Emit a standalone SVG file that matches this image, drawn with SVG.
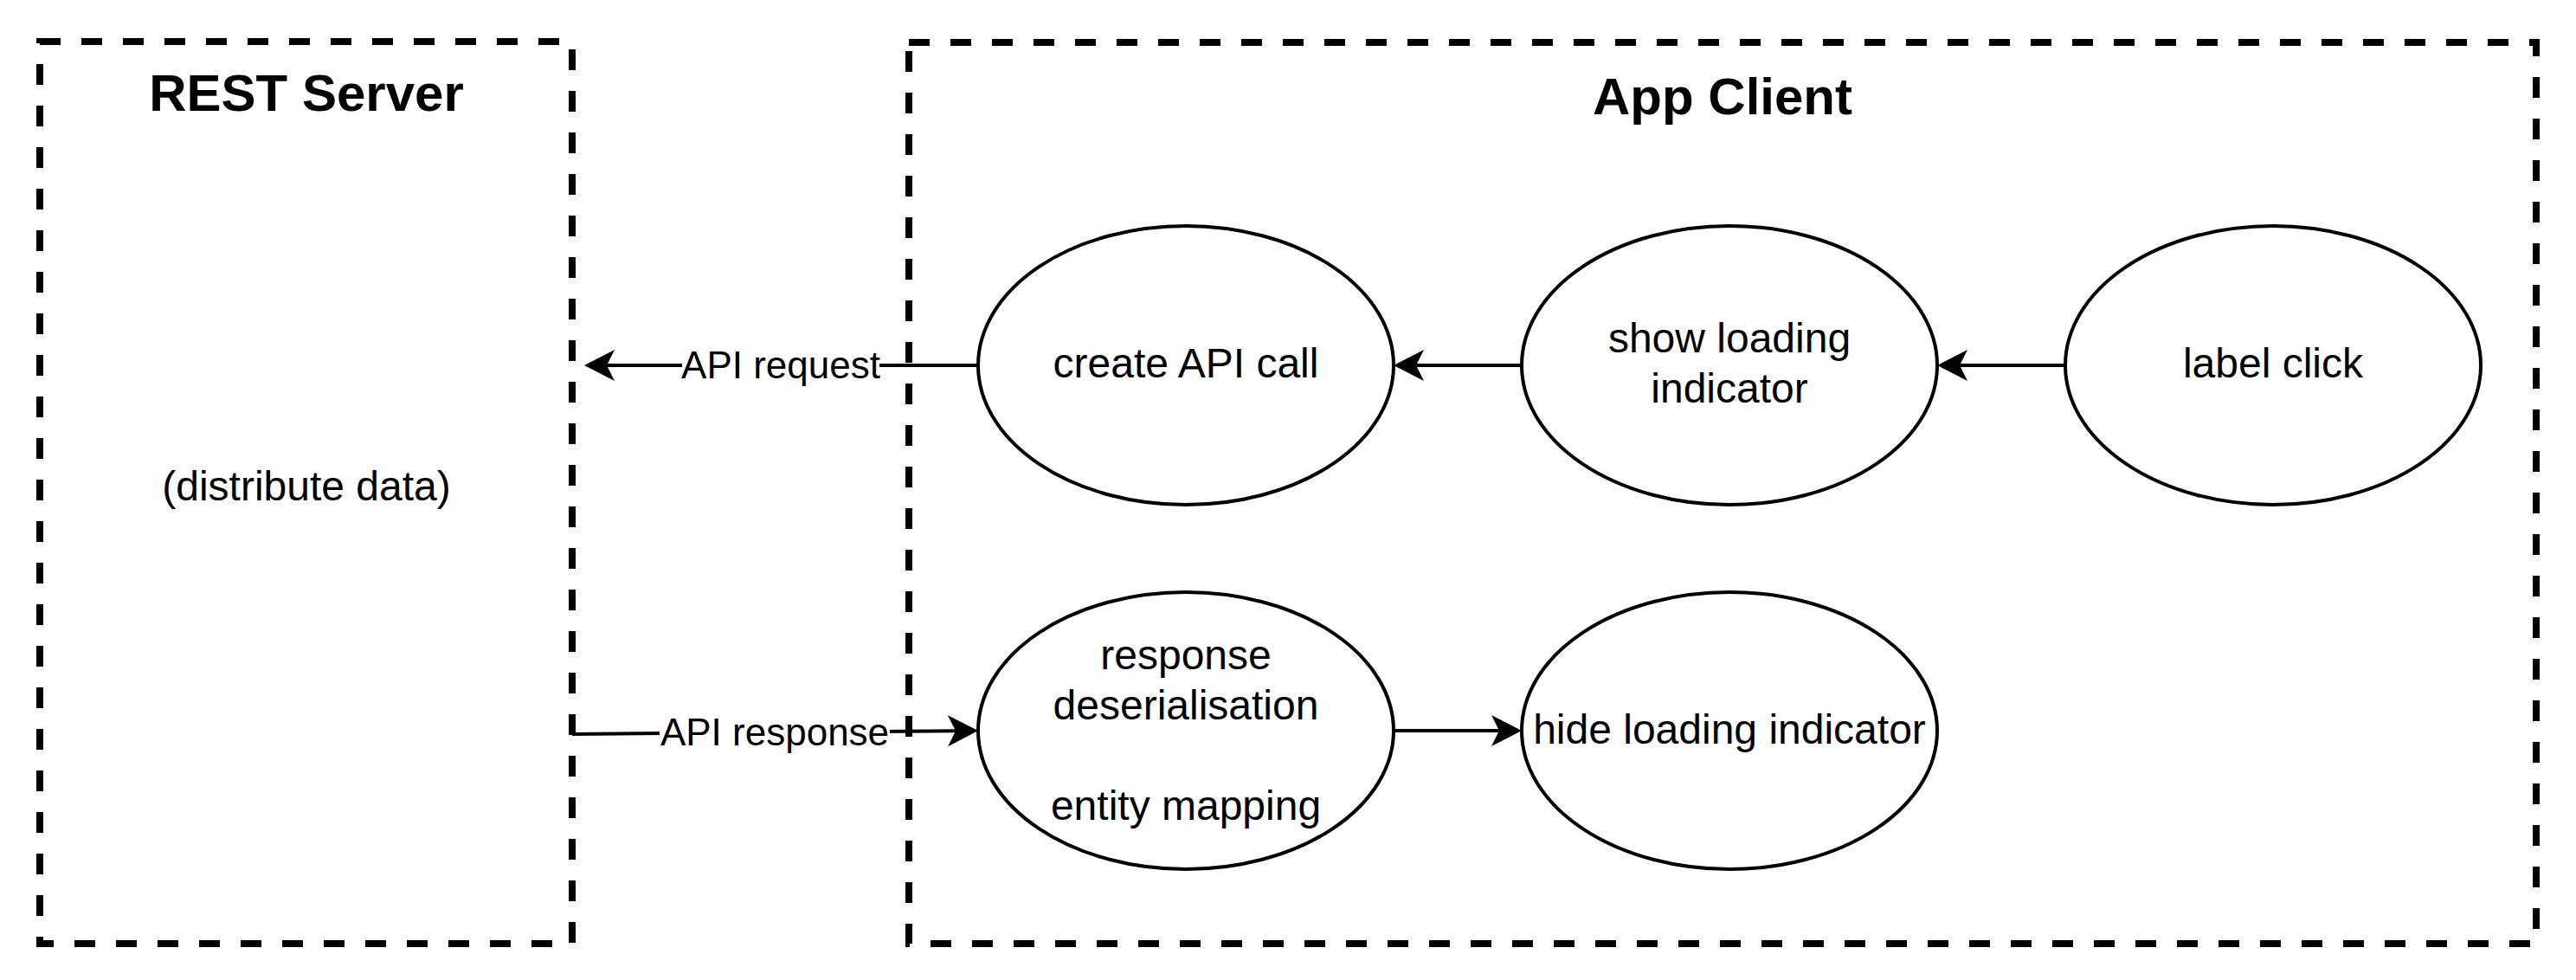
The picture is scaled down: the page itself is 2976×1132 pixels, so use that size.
<svg xmlns="http://www.w3.org/2000/svg" width="2976" height="1132" viewBox="0 0 2976 1132">
<style>
.container{fill:none;stroke:#000;stroke-width:8;stroke-dasharray:24 24}
.title{font-family:"Liberation Sans",Arial,Helvetica,sans-serif;font-weight:bold;font-size:60px;fill:#000;text-anchor:middle}
.node{fill:#fff;stroke:#000;stroke-width:4}
.txt{font-family:"Liberation Sans",Arial,Helvetica,sans-serif;font-size:48px;fill:#000;text-anchor:middle}
.edge{fill:none;stroke:#000;stroke-width:4}
.lbl{font-family:"Liberation Sans",Arial,Helvetica,sans-serif;font-size:44px;fill:#000;text-anchor:middle}
.lblbg{fill:#fff}
</style>
<defs>
<marker id="arrow" markerUnits="userSpaceOnUse" markerWidth="36" markerHeight="38" viewBox="0 -19 36 38" refX="9" refY="0" orient="auto">
<path d="M35,0 L0,-18 L9,0 L0,18 Z" fill="#000"/>
</marker>
</defs>
<rect width="2976" height="1132" fill="#fff"/>
<g id="rest-server">
<rect class="container" x="46" y="48" width="615" height="1042"/>
<text class="title" x="354" y="128">REST Server</text>
<text class="txt" x="354" y="578">(distribute data)</text>
</g>
<g id="app-client">
<rect class="container" x="1050" y="49" width="1880" height="1041"/>
<text class="title" x="1990" y="132">App Client</text>
</g>
<g id="connectors">
<path class="edge" d="M2386,422 L2264,422" marker-end="url(#arrow)"/>
<path class="edge" d="M1758,422 L1636,422" marker-end="url(#arrow)"/>
<path class="edge" d="M1130,422 L701,422" marker-end="url(#arrow)"/>
<rect class="lblbg" x="788" y="398" width="228" height="50"/>
<text class="lbl" x="902" y="437">API request</text>
<path class="edge" d="M661,848 L1104,844.2" marker-end="url(#arrow)"/>
<rect class="lblbg" x="762" y="822" width="266" height="50"/>
<text class="lbl" x="895" y="861">API response</text>
<path class="edge" d="M1610,844 L1732,844" marker-end="url(#arrow)"/>
</g>
<g id="create-api-call">
<ellipse class="node" cx="1370" cy="422" rx="240" ry="161"/>
<text class="txt" x="1370" y="436">create API call</text>
</g>
<g id="show-loading-indicator">
<ellipse class="node" cx="1998" cy="422" rx="240" ry="161"/>
<text class="txt" x="1998" y="407">show loading</text>
<text class="txt" x="1998" y="465">indicator</text>
</g>
<g id="label-click">
<ellipse class="node" cx="2626" cy="422" rx="240" ry="161"/>
<text class="txt" x="2626" y="436">label click</text>
</g>
<g id="response-deserialisation">
<ellipse class="node" cx="1370" cy="844" rx="240" ry="160"/>
<text class="txt" x="1370" y="773">response</text>
<text class="txt" x="1370" y="831">deserialisation</text>
<text class="txt" x="1370" y="947">entity mapping</text>
</g>
<g id="hide-loading-indicator">
<ellipse class="node" cx="1998" cy="844" rx="240" ry="160"/>
<text class="txt" x="1998" y="859">hide loading indicator</text>
</g>
</svg>
